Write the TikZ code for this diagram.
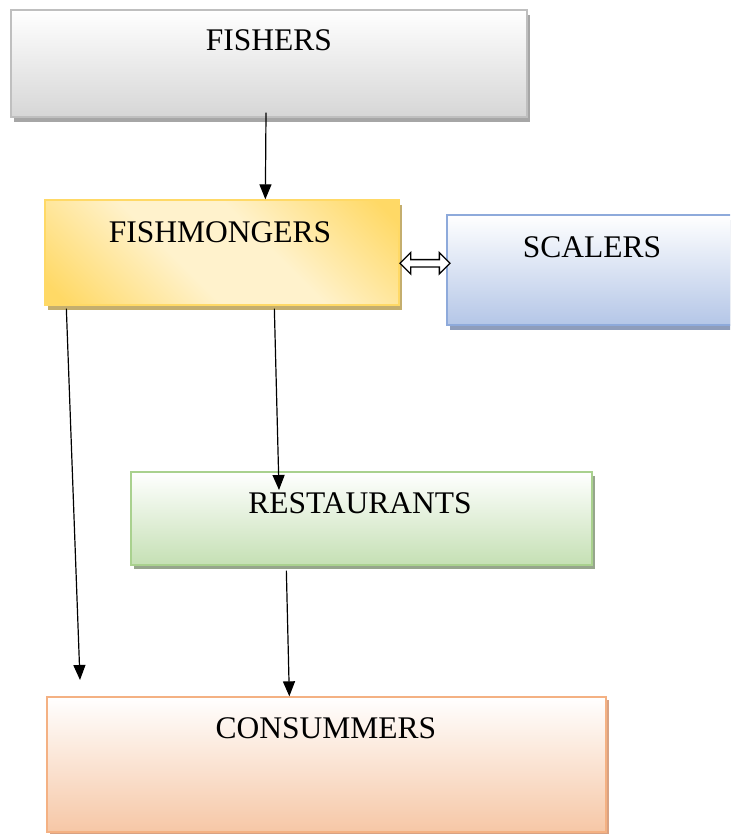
\documentclass[tikz,border=0pt]{standalone}
\usepackage{fontspec}
\setmainfont{Liberation Serif}
\usetikzlibrary{arrows.meta,shadows,shapes.arrows,calc}

\definecolor{fishline}{HTML}{BFBFBF}
\definecolor{fishfill}{HTML}{D6D6D6}
\definecolor{fishshadow}{HTML}{A6A6A6}
\definecolor{mongerline}{HTML}{FFD966}
\definecolor{mongerfill}{HTML}{FFD966}
\definecolor{mongerlight}{HTML}{FFF2CC}
\definecolor{mongershadow}{HTML}{C4AE6E}
\definecolor{scaleline}{HTML}{8EAADB}
\definecolor{scalefill}{HTML}{B4C6E7}
\definecolor{scaleshadow}{HTML}{8E9DBB}
\definecolor{restoline}{HTML}{A9D18E}
\definecolor{restofill}{HTML}{C5E0B4}
\definecolor{restoshadow}{HTML}{96A68C}
\definecolor{consline}{HTML}{F4B183}
\definecolor{consfill}{HTML}{F6C7A6}
\definecolor{consshadow}{HTML}{D9A282}

\pgfdeclareverticalshading{mongershade}{100bp}{color(0bp)=(mongerfill); color(18bp)=(mongerfill);
    color(42bp)=(mongerlight); color(58bp)=(mongerlight); color(82bp)=(mongerfill); color(100bp)=(mongerfill)}

\begin{document}
\begin{tikzpicture}[x=1pt,y=-1pt]
        \clip (0,0) rectangle (730,834);

        \begin{scope}[every node/.style={rectangle,draw,line width=1.3pt,inner sep=0pt}]
            \node[minimum width=516pt,minimum height=107pt,draw=fishline,top color=white,bottom color=fishfill,
                drop shadow={shadow xshift=3pt,shadow yshift=-5pt,fill=fishshadow,opacity=1}] (fishers) at (269,63.5) {};
            \node[minimum width=354pt,minimum height=105pt,draw=mongerline,shading=mongershade,shading angle=135,
                drop shadow={shadow xshift=3pt,shadow yshift=-5pt,fill=mongershadow,opacity=1}] (fishmongers) at (222,252.5) {};
            \node[minimum width=298pt,minimum height=110pt,draw=scaleline,top color=white,bottom color=scalefill,
                drop shadow={shadow xshift=3pt,shadow yshift=-5pt,fill=scaleshadow,opacity=1}] (scalers) at (596,270) {};
            \node[minimum width=461pt,minimum height=93pt,draw=restoline,top color=white,bottom color=restofill,
                drop shadow={shadow xshift=3pt,shadow yshift=-4pt,fill=restoshadow,opacity=1}] (restaurants) at (361.5,518.5) {};
            \node[minimum width=559pt,minimum height=135pt,draw=consline,top color=white,bottom color=consfill,
                drop shadow={shadow xshift=3pt,shadow yshift=-3pt,fill=consshadow,opacity=1}] (consummers) at (326.5,764.5) {};
        \end{scope}

        \begin{scope}[every node/.style={anchor=base,font=\fontsize{31.5}{36}\selectfont}]
            \node (fisherstext) at (269,51) {FISHERS};
            \node (mongerstext) at (220,242) {FISHMONGERS};
            \node (scalerstext) at (592,257) {SCALERS};
            \node (restotext) at (360,513) {RESTAURANTS};
            \node (constext) at (326,738) {CONSUMMERS};
        \end{scope}

        \node[double arrow,draw=black,fill=white,line width=1.4pt,minimum height=50pt,minimum width=20pt,
            double arrow head extend=7pt,double arrow head indent=0pt,inner sep=3pt] (swap)
            at ($(fishmongers.east)!0.5!(scalers.west)+(2,2)$) {};

        \coordinate (leftend) at (80,680);
        \coordinate (restotop) at (279,490);

        \begin{scope}[every path/.style={line width=1.2pt,-{Triangle[length=15pt,width=12pt]}}]
            \path ([xshift=-3pt,yshift=5pt]fishers.south) edge ([xshift=221pt]fishmongers.north west);
            \path ([xshift=22pt,yshift=-3pt]fishmongers.south west) edge (leftend);
            \path ([xshift=230pt,yshift=-3pt]fishmongers.south west) edge (restotop);
            \path ([xshift=156pt,yshift=-5pt]restaurants.south west) edge ([xshift=243pt]consummers.north west);
        \end{scope}
\end{tikzpicture}
\end{document}
